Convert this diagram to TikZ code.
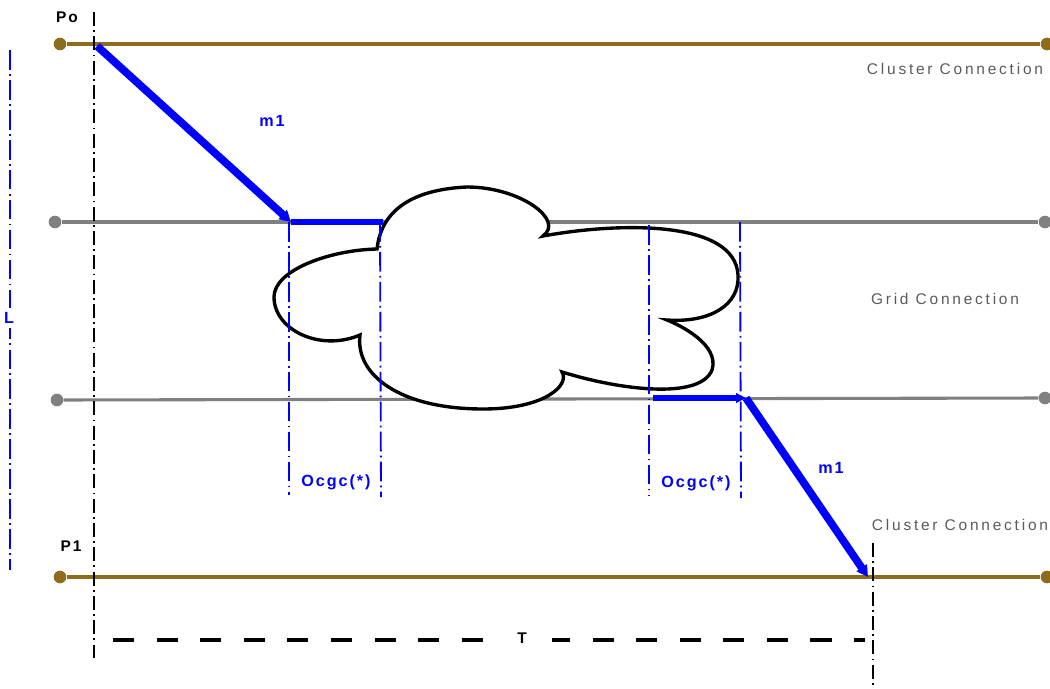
\documentclass[tikz,border=0pt]{standalone}
\usepackage{fontspec}
\setmainfont{Liberation Sans}
\newfontfamily\spacedfont[LetterSpace=12]{Liberation Sans}
\newfontfamily\connfont[LetterSpace=18]{Liberation Sans}
\usetikzlibrary{arrows.meta}
\definecolor{clusterbrown}{RGB}{143,107,28}
\definecolor{gridgray}{RGB}{128,128,128}
\definecolor{labelgray}{RGB}{90,90,90}
\begin{document}
\begin{tikzpicture}[x=0.025cm,y=-0.025cm]
        \tikzstyle{cdot}=[circle,inner sep=0pt,minimum size=9pt]
        \tikzstyle{cluster}=[draw=clusterbrown,line width=2.2pt]
        \tikzstyle{grid}=[draw=gridgray,line width=2.2pt]
        \tikzstyle{conn}=[font=\connfont\fontsize{11}{13}\selectfont,text=labelgray]
        \tikzstyle{blab}=[font=\spacedfont\bfseries\fontsize{11.5}{13}\selectfont,text=blue]
        \tikzstyle{plab}=[font=\spacedfont\bfseries\fontsize{11}{13}\selectfont]
        \tikzstyle{msg}=[draw=blue,line width=5.5pt,-{Triangle[length=8pt,width=8.5pt]}]
        \tikzstyle{hold}=[draw=blue,line width=3.8pt]
        \tikzstyle{tline}=[draw=black,line width=1.3pt,dash pattern=on 10pt off 3pt on 1.3pt off 3pt]
        \tikzstyle{oline}=[draw=blue,line width=1.3pt,dash pattern=on 14pt off 3pt on 1.3pt off 3pt]
        \useasboundingbox (0,0) rectangle (1050,689);
        % connection lines
        \node [cdot,fill=clusterbrown] (po-l) at (60,44) {};
        \node [cdot,fill=clusterbrown] (po-r) at (1047,44) {};
        \node [cdot,fill=gridgray] (g1-l) at (55,222) {};
        \node [cdot,fill=gridgray] (g1-r) at (1045,222) {};
        \node [cdot,fill=gridgray] (g2-l) at (57,400) {};
        \node [cdot,fill=gridgray] (g2-r) at (1045,398) {};
        \node [cdot,fill=clusterbrown] (p1-l) at (60,577) {};
        \node [cdot,fill=clusterbrown] (p1-r) at (1047,577) {};
        \path[cluster] (po-l) -- (po-r);
        \path[grid] (g1-l) -- (g1-r);
        \path[grid] (g2-l) -- (g2-r);
        \path[cluster] (p1-l) -- (p1-r);
        % cloud
        \draw[line width=2.4pt,fill=white] (377,249) .. controls (330,250) and (274,270) .. (274,297)
          .. controls (274,330) and (320,352) .. (360,335)
          .. controls (355,375) and (400,409) .. (483,409)
          .. controls (545,409) and (570,385) .. (562,372)
          .. controls (620,390) and (700,400) .. (712,370)
          .. controls (720,345) and (680,325) .. (667,320)
          .. controls (710,323) and (740,305) .. (738,275)
          .. controls (735,220) and (620,222) .. (543,236)
          .. controls (565,220) and (520,187) .. (467,187)
          .. controls (400,190) and (380,220) .. (377,249) -- cycle;
        % labels
        \node [plab] (po) at (67,17) {Po};
        \node [plab] (p1) at (71,546) {P1};
        \node [conn] (cc1) at (955,69) {Cluster Connection};
        \node [conn] (gc) at (945,299) {Grid Connection};
        \node [conn] (cc2) at (960,525) {Cluster Connection};
        % time axis
        \coordinate (t0a) at (94,12);
        \coordinate (t0b) at (94,658);
        \coordinate (t1a) at (873,543);
        \coordinate (t1b) at (873,690);
        \path[tline] (t0a) -- (t0b);
        \path[tline] (t1a) -- (t1b);
        \coordinate (ta) at (113,640);
        \coordinate (tb) at (865,640);
        \path[draw,line width=2.2pt,dash pattern=on 15pt off 16pt] (ta) -- (tb);
        \node [plab,fill=white,inner xsep=18pt,inner ysep=2pt] (t) at (522,638) {T};
        % length
        \coordinate (la) at (10,50);
        \coordinate (lb) at (10,570);
        \path[oline] (la) -- (lb);
        \node [blab,fill=white,inner sep=3pt] (l) at (9,318) {L};
        % overhead marks
        \coordinate (o1a) at (289,222);
        \coordinate (o1b) at (289,495);
        \coordinate (o2a) at (380,222);
        \coordinate (o2b) at (381,497);
        \coordinate (o3a) at (649,225);
        \coordinate (o3b) at (649,495);
        \coordinate (o4a) at (740,222);
        \coordinate (o4b) at (741,498);
        \path[oline] (o1a) -- (o1b);
        \path[oline] (o2a) -- (o2b);
        \path[oline] (o3a) -- (o3b);
        \path[oline] (o4a) -- (o4b);
        \node [blab] (oc1) at (336,482) {Ocgc(*)};
        \node [blab] (oc2) at (696,483) {Ocgc(*)};
        % message
        \coordinate (s0) at (97,46);
        \coordinate (s1) at (291,222);
        \coordinate (s2) at (383,222);
        \coordinate (s3) at (653,398);
        \coordinate (s4) at (746,398);
        \coordinate (s5) at (868,577);
        \path[msg] (s0) -- (s1);
        \path[hold] (s1) -- (s2);
        \path[hold,-{Triangle[length=7pt,width=6.5pt]}] (s3) -- (s4);
        \path[msg] (s4) -- (s5);
        \node [blab] (m1a) at (272,121) {m1};
        \node [blab] (m1b) at (831,468) {m1};
\end{tikzpicture}
\end{document}
